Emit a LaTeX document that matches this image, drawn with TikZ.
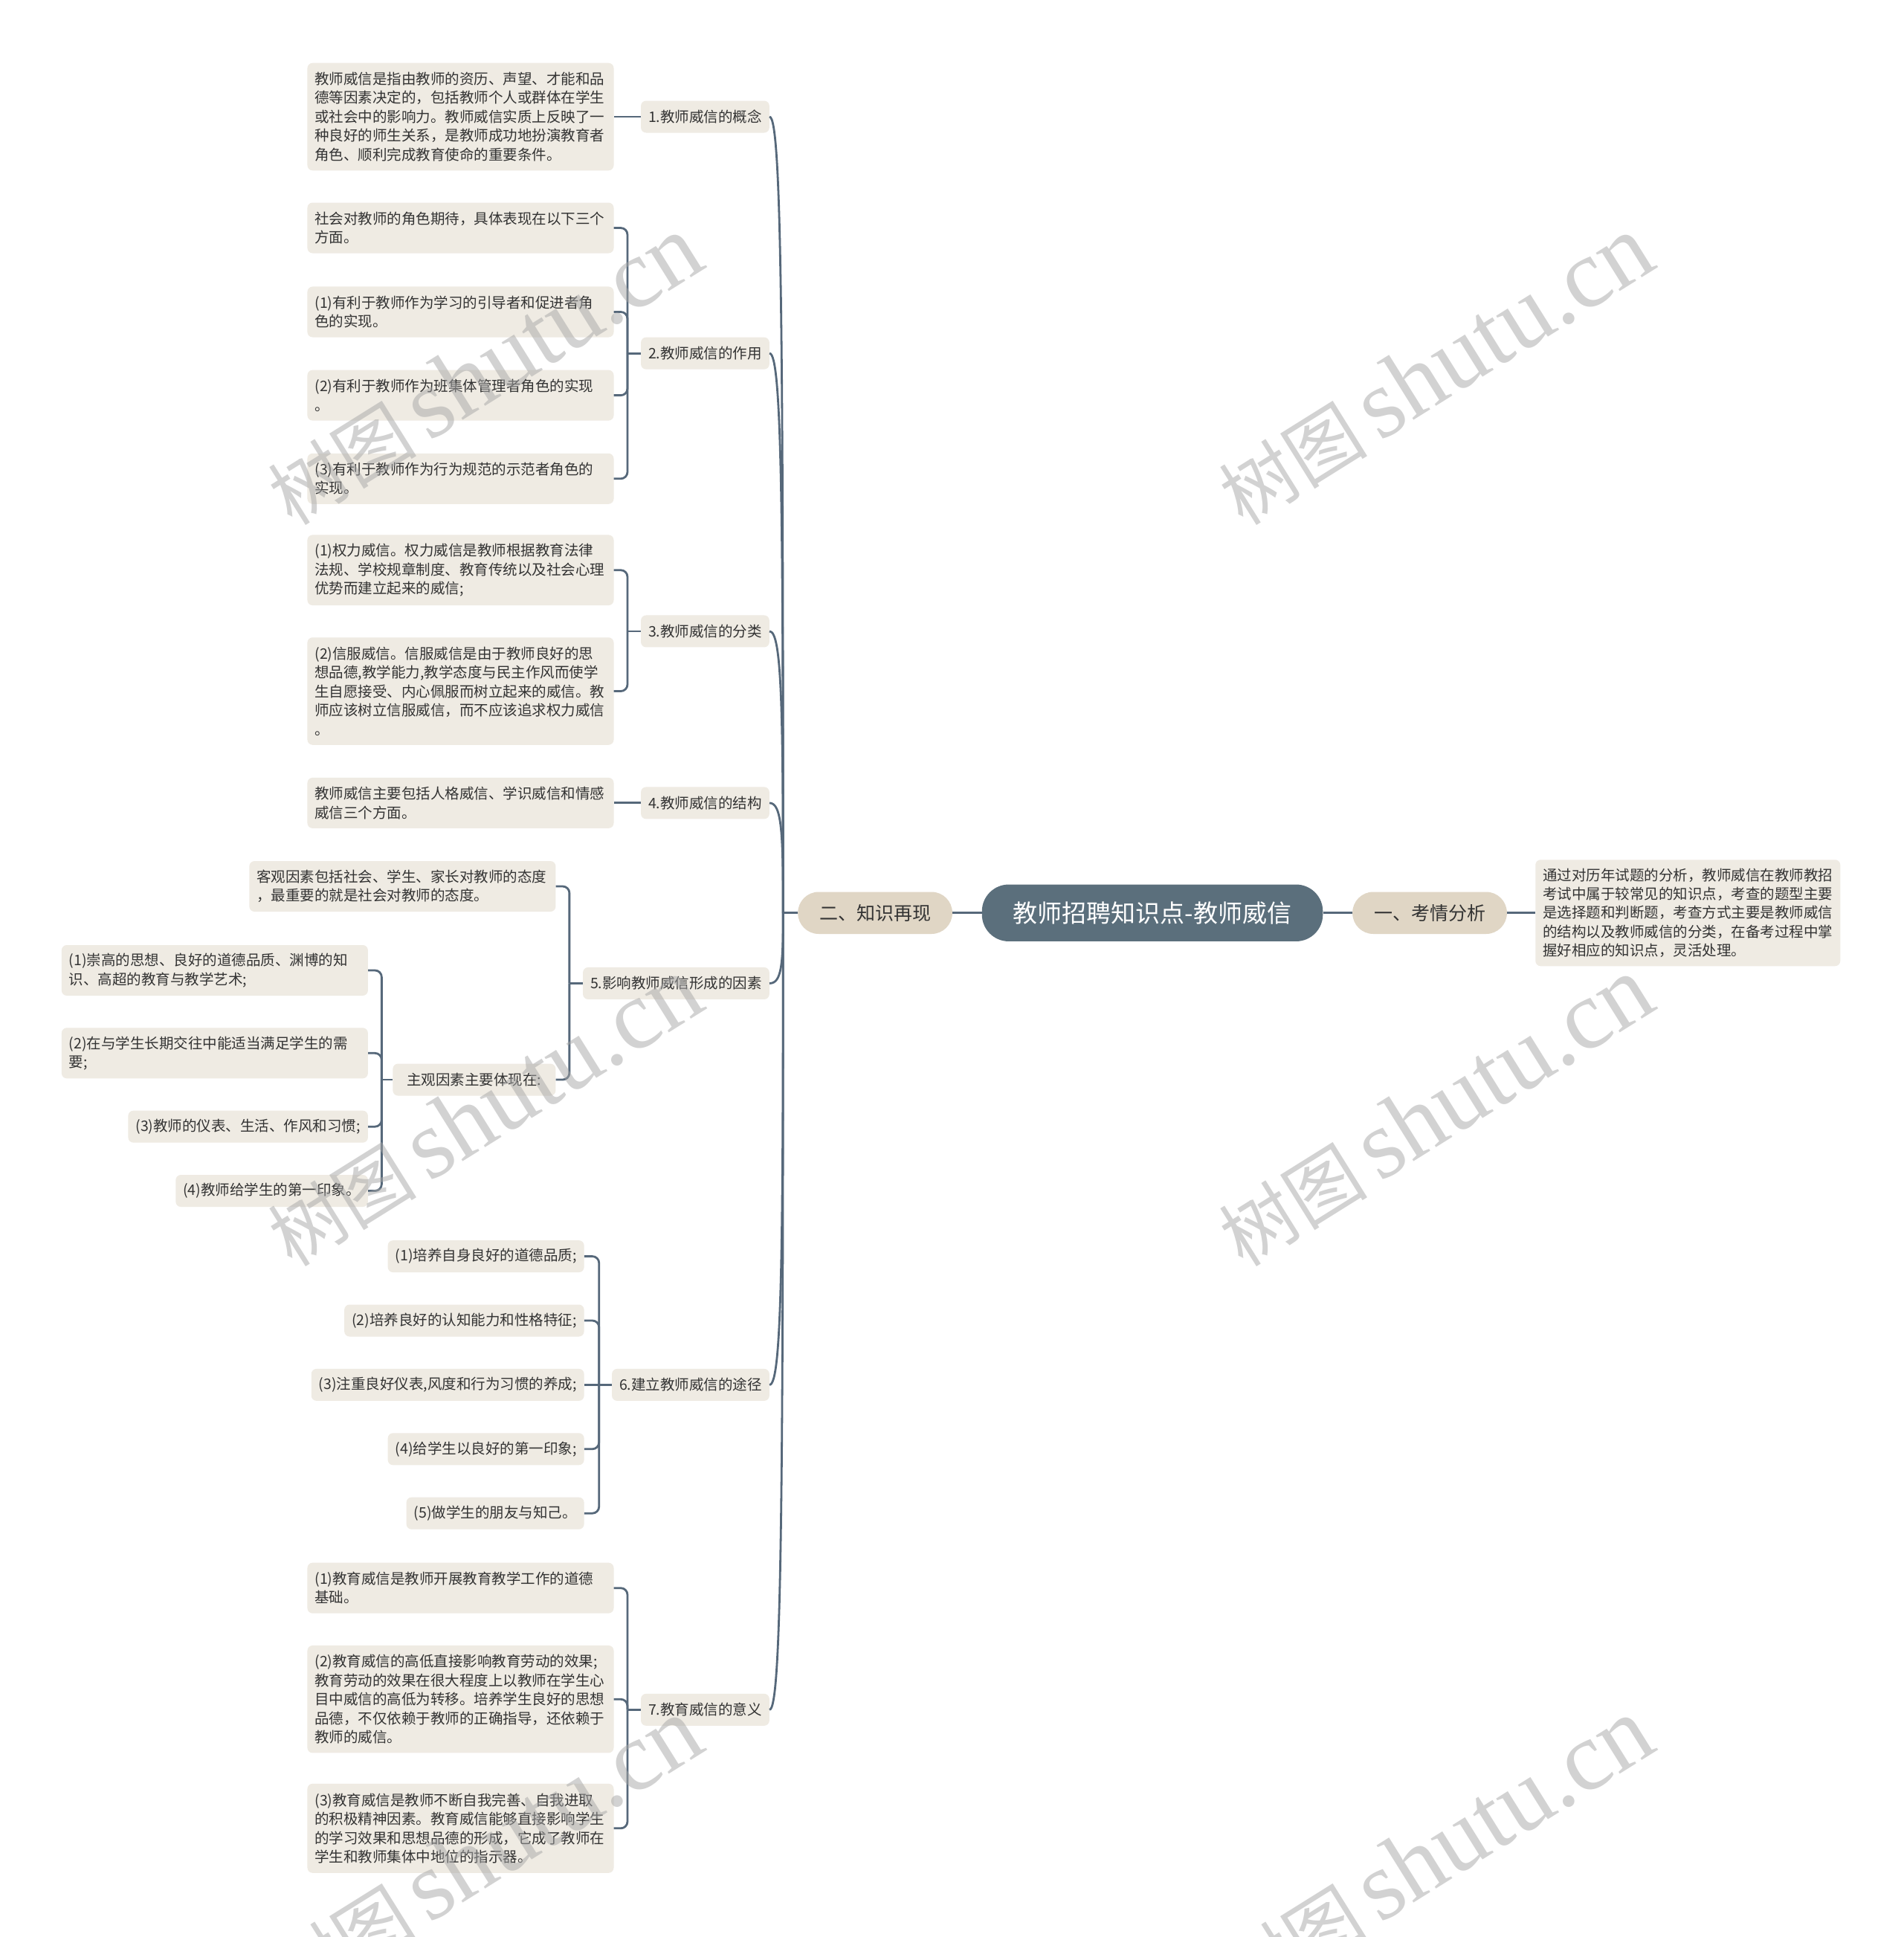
\documentclass[tikz,border=0pt]{standalone}
\usepackage{fontspec}
\setmainfont{Noto Sans CJK SC}
\newfontfamily\wmcjk{Noto Sans CJK SC}
\newfontfamily\wmlat{Liberation Serif}
\definecolor{leafcol}{HTML}{EFEBE3}
\definecolor{maincol}{HTML}{E0D6C5}
\definecolor{rootcol}{HTML}{5B6F7C}
\definecolor{linecol}{HTML}{56687A}
\definecolor{txtcol}{HTML}{333333}
\newcommand\leaffs{\fontsize{19.5pt}{25.4pt}\selectfont}
\newcommand\mainfs{\fontsize{25pt}{30pt}\selectfont}
\newcommand\rootfs{\fontsize{33pt}{38pt}\selectfont}
\tikzset{
  conn/.style={draw=linecol, line width=2.8pt},
  bracket/.style={conn, rounded corners=9pt},
  leaf/.style={fill=leafcol, rounded corners=7pt, inner xsep=10pt, inner ysep=6pt,
    align=left, font=\leaffs, text=txtcol, anchor=east},
  wide/.style={leaf, text width=392pt, minimum height=#1},
  topic/.style={fill=leafcol, rounded corners=7pt, inner xsep=10pt, inner ysep=4pt,
    minimum height=43pt, font=\leaffs, text=txtcol, anchor=east},
  mainnode/.style={fill=maincol, rounded corners=28pt, minimum width=207.7pt,
    minimum height=56.5pt, font=\mainfs, text=txtcol},
  rootnode/.style={fill=rootcol, rounded corners=36pt, minimum width=458.5pt,
    minimum height=76.4pt, font=\rootfs, text=white},
  wm/.style={rotate=32, text=black!35, text opacity=0.5, inner sep=0pt}
}
\begin{document}
\begin{tikzpicture}[x=1.66126pt, y=-1.66126pt]
\fill[white] (0,0) rectangle (1541,1568);
\useasboundingbox (0,0) rectangle (1541,1568);

% centre
\node[rootnode] (root) at (933,739) {教师招聘知识点-教师威信};
\node[mainnode] (n2) at (708.5,739) {二、知识再现};
\node[mainnode] (n1) at (1157.5,739) {一、考情分析};
\node[leaf, anchor=west, text width=390pt, minimum height=143pt] (r1) at (1243,739)
  {通过对历年试题的分析，教师威信在教师教招\\考试中属于较常见的知识点，考查的题型主要\\是选择题和判断题，考查方式主要是教师威信\\的结构以及教师威信的分类，在备考过程中掌\\握好相应的知识点，灵活处理。};

% level 1
\node[topic] (t1) at (623,94.5) {1.教师威信的概念};
\node[topic] (t2) at (623,286) {2.教师威信的作用};
\node[topic] (t3) at (623,511) {3.教师威信的分类};
\node[topic] (t4) at (623,650) {4.教师威信的结构};
\node[topic] (t5) at (623,796) {5.影响教师威信形成的因素};
\node[topic] (t6) at (623,1121) {6.建立教师威信的途径};
\node[topic] (t7) at (623,1384) {7.教育威信的意义};

% group 1
\node[wide=144.5pt] (a1) at (497,94.5)
  {教师威信是指由教师的资历、声望、才能和品\\德等因素决定的，包括教师个人或群体在学生\\或社会中的影响力。教师威信实质上反映了一\\种良好的师生关系，是教师成功地扮演教育者\\角色、顺利完成教育使命的重要条件。};
% group 2
\node[wide=68pt] (b1) at (497,184.5) {社会对教师的角色期待，具体表现在以下三个\\方面。};
\node[wide=68pt] (b2) at (497,252.5) {(1)有利于教师作为学习的引导者和促进者角\\色的实现。};
\node[wide=68pt] (b3) at (497,320) {(2)有利于教师作为班集体管理者角色的实现\\。};
\node[wide=68pt] (b4) at (497,387.5) {(3)有利于教师作为行为规范的示范者角色的\\实现。};
% group 3
\node[wide=94.7pt] (c1) at (497,461.5) {(1)权力威信。权力威信是教师根据教育法律\\法规、学校规章制度、教育传统以及社会心理\\优势而建立起来的威信;};
\node[wide=144.5pt] (c2) at (497,559.5) {(2)信服威信。信服威信是由于教师良好的思\\想品德,教学能力,教学态度与民主作风而使学\\生自愿接受、内心佩服而树立起来的威信。教\\师应该树立信服威信，而不应该追求权力威信\\。};
% group 4
\node[wide=68pt] (d1) at (497,650) {教师威信主要包括人格威信、学识威信和情感\\威信三个方面。};
% group 5
\node[wide=68pt] (e1) at (450,717.5) {客观因素包括社会、学生、家长对教师的态度\\，最重要的就是社会对教师的态度。};
\node[leaf, minimum height=43pt, minimum width=219pt] (e2) at (450,874) {主观因素主要体现在:};
\node[wide=68pt] (f1) at (298,785.5) {(1)崇高的思想、良好的道德品质、渊博的知\\识、高超的教育与教学艺术;};
\node[wide=68pt] (f2) at (298,852.5) {(2)在与学生长期交往中能适当满足学生的需\\要;};
\node[leaf, minimum height=43pt] (f3) at (298,912) {(3)教师的仪表、生活、作风和习惯;};
\node[leaf, minimum height=43pt] (f4) at (298,964) {(4)教师给学生的第一印象。};
% group 6
\node[leaf, minimum height=43pt] (g1) at (473,1017) {(1)培养自身良好的道德品质;};
\node[leaf, minimum height=43pt] (g2) at (473,1069) {(2)培养良好的认知能力和性格特征;};
\node[leaf, minimum height=43pt] (g3) at (473,1121) {(3)注重良好仪表,风度和行为习惯的养成;};
\node[leaf, minimum height=43pt] (g4) at (473,1173) {(4)给学生以良好的第一印象;};
\node[leaf, minimum height=43pt] (g5) at (473,1225) {(5)做学生的朋友与知己。};
% group 7
\node[wide=68pt] (h1) at (497,1285.5) {(1)教育威信是教师开展教育教学工作的道德\\基础。};
\node[wide=144.5pt] (h2) at (497,1375.5) {(2)教育威信的高低直接影响教育劳动的效果;\\教育劳动的效果在很大程度上以教师在学生心\\目中威信的高低为转移。培养学生良好的思想\\品德，不仅依赖于教师的正确指导，还依赖于\\教师的威信。};
\node[wide=120pt] (h3) at (497,1480) {(3)教育威信是教师不断自我完善、自我进取\\的积极精神因素。教育威信能够直接影响学生\\的学习效果和思想品德的形成，它成了教师在\\学生和教师集体中地位的指示器。};

% centre connectors
\draw[conn] (root.west) -- (n2.east);
\draw[conn] (root.east) -- (n1.west);
\draw[conn] (n1.east) -- (r1.west);

% trunk
\coordinate (sp) at (634,739);
\draw[conn] (n2.west) -- (sp);
\foreach \t/\yy in {t1/94.5, t2/286, t3/511, t4/650, t5/796, t6/1121, t7/1384}{
  \draw[conn] (sp) .. controls (634,{739+0.72*(\yy-739)}) and (633,\yy) .. (\t.east);
}

% group 1, 4
\draw[conn] (t1.west) -- (a1.east);
\draw[conn] (t4.west) -- (d1.east);

% group 2
\coordinate (j2) at (508,286);
\draw[conn] (t2.west) -- (j2);
\foreach \n in {b1,b2,b3,b4}{ \draw[bracket] (j2) |- (\n.east); }
% group 3
\coordinate (j3) at (508,511);
\draw[conn] (t3.west) -- (j3);
\foreach \n in {c1,c2}{ \draw[bracket] (j3) |- (\n.east); }
% group 5
\coordinate (j5) at (461,796);
\draw[conn] (t5.west) -- (j5);
\foreach \n in {e1,e2}{ \draw[bracket] (j5) |- (\n.east); }
\coordinate (j5b) at (309,874);
\draw[conn] (e2.west) -- (j5b);
\foreach \n in {f1,f2,f3,f4}{ \draw[bracket] (j5b) |- (\n.east); }
% group 6
\coordinate (j6) at (485,1121);
\draw[conn] (t6.west) -- (j6);
\draw[conn] (j6) -- (g3.east);
\foreach \n in {g1,g2,g4,g5}{ \draw[bracket] (j6) |- (\n.east); }
% group 7
\coordinate (j7) at (508,1384);
\draw[conn] (t7.west) -- (j7);
\foreach \n in {h1,h2,h3}{ \draw[bracket] (j7) |- (\n.east); }

% watermarks
\foreach \wx/\wy [count=\i] in {392/300, 1162/300, 392/900, 1162/900, 392/1500, 1162/1500}{
  \node[wm] (wm\i) at (\wx,\wy) {\wmcjk\fontsize{100pt}{100pt}\selectfont 树图\,\wmlat\fontsize{132pt}{132pt}\selectfont shutu.cn};
}
\end{tikzpicture}
\end{document}
